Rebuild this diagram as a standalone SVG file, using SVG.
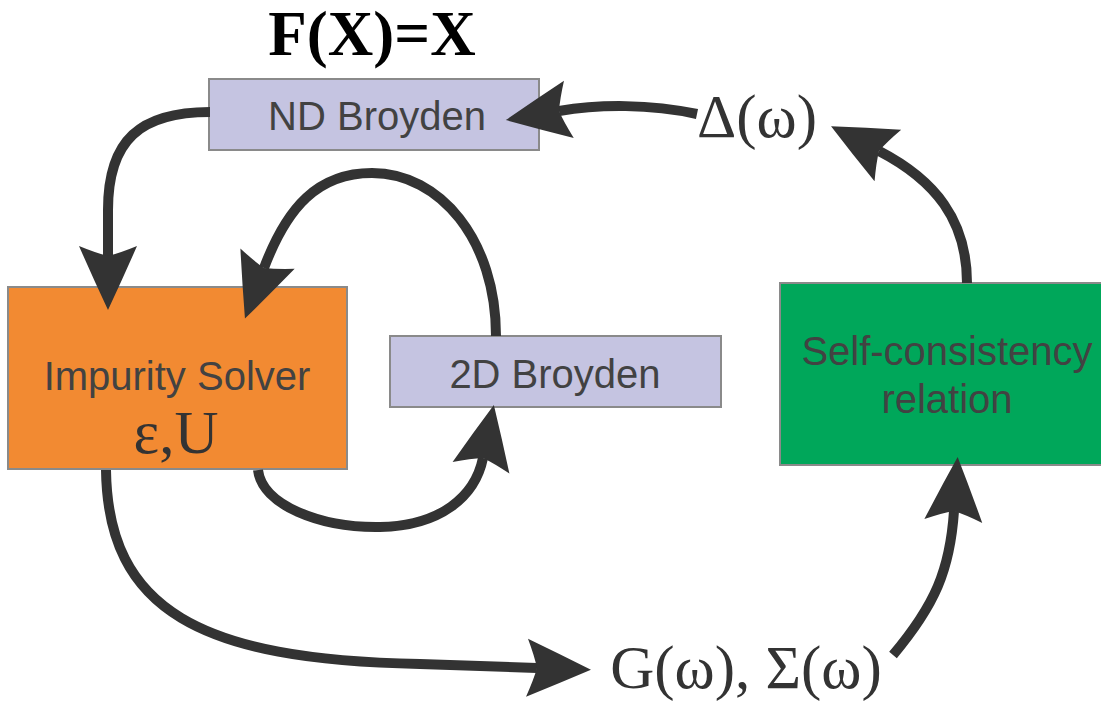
<svg xmlns="http://www.w3.org/2000/svg" width="1101" height="701" viewBox="0 0 1101 701">
  <style>
    .box-lav { fill: #c5c4e1; stroke: #8a8a8a; stroke-width: 2; }
    .box-org { fill: #f28a32; stroke: #8a8a8a; stroke-width: 2; }
    .box-grn { fill: #00a75a; stroke: #8a8a8a; stroke-width: 2; }
    .sans { font-family: "Liberation Sans", Arial, sans-serif; font-size: 40px; fill: #424242; text-anchor: middle; }
    .math { font-family: "Liberation Serif", "Times New Roman", serif; font-size: 61px; fill: #333333; }
    .link { fill: none; stroke: #333333; stroke-width: 10; marker-end: url(#ah); }
  </style>
  <defs>
    <!-- swept-back arrowhead; origin sits at the notch, tip points along +x -->
    <marker id="ah" markerUnits="userSpaceOnUse" viewBox="-14 -32 72 64" markerWidth="72" markerHeight="64" refX="0" refY="0" orient="auto" overflow="visible">
      <path d="M54 0 Q22 -15 -10 -29 Q-3 -12 0 0 Q-3 12 -10 29 Q22 15 54 0 Z" fill="#333333"/>
    </marker>
  </defs>

  <rect width="1101" height="701" fill="#ffffff"/>

  <g id="title">
    <text x="372" y="55" text-anchor="middle" font-family="'Liberation Serif', 'Times New Roman', serif" font-size="63" font-weight="bold" fill="#000000">F(X)=X</text>
  </g>

  <g id="nd-broyden">
    <rect class="box-lav" x="209" y="79" width="330" height="71"/>
    <text class="sans" x="377" y="130">ND Broyden</text>
  </g>

  <g id="impurity-solver">
    <rect class="box-org" x="8" y="287" width="339" height="182"/>
    <text class="sans" x="177" y="390">Impurity Solver</text>
    <text class="math" x="176" y="453" text-anchor="middle">ε,U</text>
  </g>

  <g id="broyden-2d">
    <rect class="box-lav" x="390" y="336" width="331" height="71"/>
    <text class="sans" x="555" y="388">2D Broyden</text>
  </g>

  <g id="self-consistency">
    <rect class="box-grn" x="780" y="283" width="330" height="182"/>
    <text class="sans" x="947" y="365">Self-consistency</text>
    <text class="sans" x="947" y="413">relation</text>
  </g>

  <g id="delta-label">
    <text class="math" x="757" y="137" text-anchor="middle">Δ(ω)</text>
  </g>

  <g id="green-sigma-label">
    <text class="math" x="746" y="688" text-anchor="middle">G(ω), Σ(ω)</text>
  </g>

  <g id="connectors">
    <!-- ND Broyden -> Impurity Solver -->
    <path class="link" d="M210 112 C140 112 108 140 108 210 L108 256"/>
    <!-- 2D Broyden -> Impurity Solver (upper loop) -->
    <path class="link" d="M496 336 C496 240 440 173 372 173 C318 173 287 207 264 268"/>
    <!-- Impurity Solver -> 2D Broyden (lower loop) -->
    <path class="link" d="M258 470 C262 505 320 528 380 527 C440 526 475 497 483 458"/>
    <!-- Impurity Solver -> G, Sigma -->
    <path class="link" d="M106 470 C108 610 200 660 420 664 L537 668"/>
    <!-- G, Sigma -> Self-consistency relation -->
    <path class="link" d="M893 655 C935 605 950 570 954 511"/>
    <!-- Self-consistency relation -> Delta -->
    <path class="link" d="M967 283 C967 220 935 180 879 151"/>
    <!-- Delta -> ND Broyden -->
    <path class="link" d="M697 114 C650 104 600 104 559 111"/>
  </g>
</svg>
